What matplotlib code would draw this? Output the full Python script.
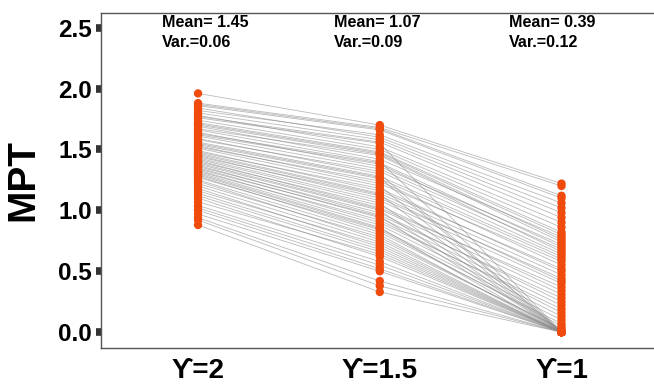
import matplotlib
matplotlib.use("Agg")
import matplotlib.pyplot as plt

categories = ["\u03d2=2", "\u03d2=1.5", "\u03d2=1"]

mpt_y2 = [1.96, 1.88, 1.87, 1.86, 1.84, 1.82, 1.80, 1.78, 1.77, 1.76, 1.74, 1.72,
          1.71, 1.70, 1.69, 1.67, 1.66, 1.64, 1.63, 1.62, 1.61, 1.59, 1.58, 1.56,
          1.55, 1.54, 1.53, 1.52, 1.51, 1.49, 1.48, 1.47, 1.46, 1.45, 1.44, 1.43,
          1.42, 1.41, 1.40, 1.39, 1.38, 1.37, 1.36, 1.35, 1.34, 1.33, 1.32, 1.31,
          1.30, 1.29, 1.28, 1.27, 1.25, 1.24, 1.22, 1.20, 1.18, 1.16, 1.14,
          1.12, 1.10, 1.07, 1.04, 1.02, 1.00, 0.97, 0.94, 0.92, 0.88]

mpt_y15 = [1.70, 1.68, 1.67, 1.66, 1.60, 1.62, 1.58, 1.52, 1.56, 1.55, 1.50, 1.48,
           1.47, 1.46, 1.42, 1.45, 1.40, 1.36, 1.39, 1.38, 1.34, 1.30, 1.32, 1.28,
           1.27, 1.26, 1.22, 1.24, 1.20, 1.16, 1.18, 1.14, 1.13, 1.10, 1.12, 1.08,
           1.06, 1.02, 1.04, 1.01, 1.00, 0.96, 0.98, 0.94, 0.95, 0.90, 0.92, 0.88,
           0.86, 0.85, 0.82, 0.84, 0.80, 0.76, 0.78, 0.74, 0.70, 0.72, 0.68,
           0.66, 0.62, 0.64, 0.58, 0.55, 0.52, 0.50, 0.42, 0.38, 0.33]

mpt_y1 = [1.22, 1.20, 1.12, 1.10, 1.02, 1.06, 0.98, 0.90, 0.94, 0.00, 0.86, 0.82,
          0.80, 0.76, 0.78, 0.74, 0.00, 0.72, 0.70, 0.66, 0.68, 0.00, 0.64, 0.62,
          0.00, 0.60, 0.58, 0.55, 0.00, 0.52, 0.50, 0.47, 0.00, 0.44, 0.42, 0.40,
          0.00, 0.37, 0.34, 0.31, 0.00, 0.28, 0.25, 0.22, 0.00, 0.19, 0.16, 0.13,
          0.00, 0.10, 0.07, 0.05, 0.00, 0.03, 0.02, 0.00, 0.00, 0.00, 0.00,
          0.00, 0.00, 0.00, 0.00, 0.00, 0.00, 0.00, 0.00, 0.00, 0.00]

stat_means = ["1.45", "1.07", "0.39"]
stat_vars = ["0.06", "0.09", "0.12"]

fam = ["Liberation Sans", "DejaVu Sans"]
plt.rcParams["font.family"] = fam

W, H = 654, 384
fig = plt.figure(figsize=(W / 100, H / 100), dpi=100)
ax = fig.add_axes([101 / W, 1 - 348 / H, (656 - 101) / W, (348 - 13) / H])

xs = [1, 2, 3]
series = [mpt_y2, mpt_y15, mpt_y1]
for i in range(len(mpt_y2)):
    ax.plot(xs, [s[i] for s in series], color="#8c8c8c", lw=0.6, alpha=0.6, zorder=1)
for x, s in zip(xs, series):
    ax.scatter([x] * len(s), s, s=36, color="#F04A0C", edgecolors="none", zorder=3)

ax.set_xlim(0.466, 3.52)
ax.set_ylim(-0.13, 2.62)
ax.set_xticks(xs)
ax.set_xticklabels(categories, fontsize=20, fontweight="bold")
ax.tick_params(axis="x", length=0, pad=7)
ax.set_yticks([0.0, 0.5, 1.0, 1.5, 2.0, 2.5])
ax.set_yticklabels(["0.0", "0.5", "1.0", "1.5", "2.0", "2.5"], fontsize=17.5, fontweight="bold")
ax.tick_params(axis="y", length=3.6, width=5.5, color="#333333", pad=3)
ax.set_ylabel("MPT", fontsize=28, fontweight="bold", labelpad=12)

for sp in ["left", "top", "bottom"]:
    ax.spines[sp].set_color("#555555")
    ax.spines[sp].set_linewidth(1.0)
ax.spines["right"].set_visible(False)

text_x = [0.8, 1.75, 2.71]
for tx, m, v in zip(text_x, stat_means, stat_vars):
    ax.text(tx, 2.54, f"Mean= {m}", fontsize=11.6, fontweight="bold", ha="left", va="center")
    ax.text(tx, 2.38, f"Var.={v}", fontsize=11.6, fontweight="bold", ha="left", va="center")

fig.savefig("out.png", dpi=100, facecolor="white")
